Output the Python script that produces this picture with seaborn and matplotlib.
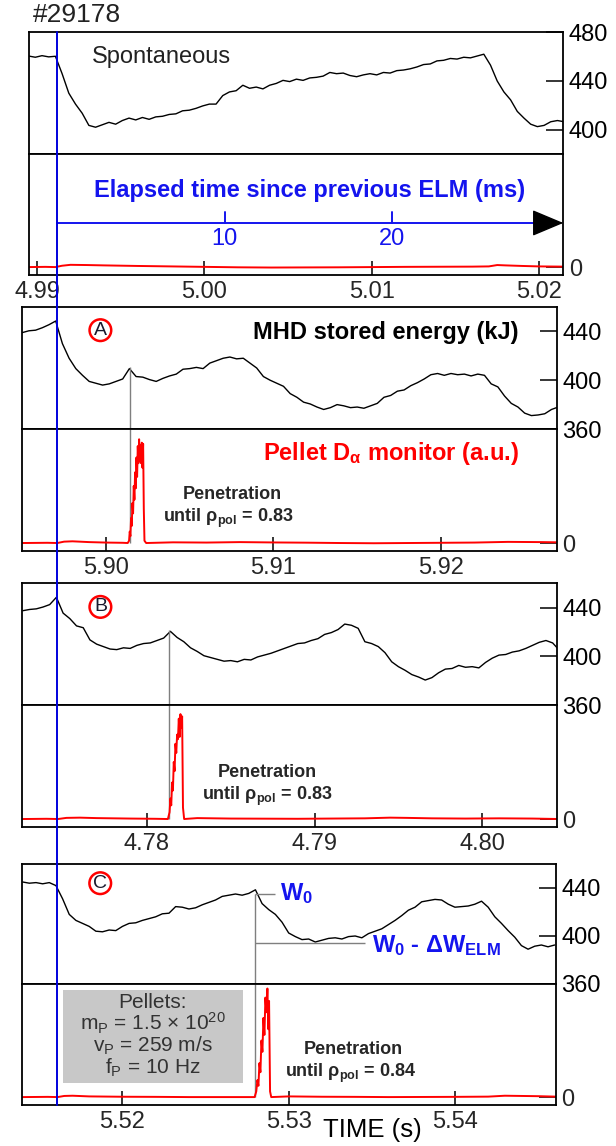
import numpy as np
import seaborn as sns
from matplotlib import pyplot as plt
from matplotlib.lines import Line2D
from matplotlib.patches import Rectangle
from matplotlib.transforms import blended_transform_factory

# ---------------- values ----------------
shot = '#29178'
panel_tags = ['', 'A', 'B', 'C']

# visible time window and ticks of every panel (s)
time_windows = [(4.98954, 5.02145), (5.89497, 5.92693), (4.77253, 4.80446), (5.51394, 5.54608)]
time_ticks = [[4.99, 5.00, 5.01, 5.02], [5.90, 5.91, 5.92], [4.78, 4.79, 4.80], [5.52, 5.53, 5.54]]
energy_ranges = [(380, 480), (360, 460), (360, 460), (360, 460)]
energy_ticks = [[400, 440, 480], [360, 400, 440], [360, 400, 440], [360, 400, 440]]
da_range = (-0.07, 1.0)

elm_times = [4.99121, 5.89709, 4.77465, 5.51608]
elapsed_ms = [10, 20]
pellet_times = [None, 5.90143, 4.78131, 5.52798]
pellet_energy = [None, 410.5, 421.5, 435.0]
penetration_rho = [None, '0.83', '0.83', '0.84']

w0_level = 435.0
w0_dw_level = 394.5
w0_line_end = 5.52917
w0_dw_line_end = 5.53459

# MHD stored energy (kJ), one sample every 0.4 ms from w_start
w_start = [4.9895, 5.8950, 4.7726, 5.5140]
w_step = 0.0004
w_spont = [460.5, 459.5, 460.8, 459.8, 460.3, 446, 430, 421, 413.5, 403.5,
           402, 404, 406, 404.5, 407.5, 409.5, 408, 410, 408.5, 410.5,
           411, 412.5, 413, 415.5, 416, 417.5, 419.5, 421, 421, 428,
           431, 432, 436.5, 434, 435, 433.5, 436.5, 438, 440.5, 439.5,
           441.5, 440.5, 442.5, 443, 444, 447, 446, 446.5, 444.5, 443.5,
           445, 446, 445, 447, 446.5, 448.5, 449, 450, 451.5, 453.5,
           454, 456.5, 457, 458.5, 458, 459.5, 459, 460.5, 462, 453,
           440, 431, 424.5, 415, 409.5, 404.5, 402.5, 403.5, 406.5, 407.5,
           406.5]
w_a = [439, 440.5, 441, 443, 445.5, 448.5, 430, 418, 409.5, 404,
       399, 397.5, 396, 397, 399, 401, 409.5, 403, 402.5, 400.5,
       399, 401.5, 403.5, 405, 409, 409.5, 410.5, 409.5, 414, 416,
       418, 419, 417.5, 418, 414, 410, 403, 400, 397.5, 395,
       389, 386, 382, 380.5, 378, 376, 377.5, 380, 379, 377.5,
       378, 377, 379, 381, 386, 387.5, 391, 392, 395.5, 398,
       401, 404.5, 405.5, 404, 405.5, 404.5, 405, 403.5, 405, 404,
       397, 394.5, 387, 381, 378, 373, 371, 371.5, 372.5, 376,
       378]
w_b = [437.5, 438.5, 439, 440.5, 442.5, 448.5, 435.5, 431, 425, 423.5,
       413.5, 410, 408, 406, 405.5, 407, 406.5, 409, 410.5, 411,
       413, 415, 420.5, 415.5, 412, 407, 404, 400.5, 399, 397.5,
       396, 396.5, 395.5, 397.5, 397, 399.5, 401, 402.5, 404.5, 406.5,
       408.5, 410.5, 411, 413, 414.5, 418, 419.5, 422, 426.5, 425.5,
       423, 412, 410.5, 408, 403, 395.5, 391.5, 388.5, 385, 383,
       380.5, 382.5, 386.5, 389.5, 390, 392.5, 391, 391.5, 390.5, 395,
       398.5, 401, 401.5, 403.5, 404.5, 406.5, 409, 411.5, 413, 411,
       405]
w_c = [445, 444, 444.5, 443.5, 444.5, 442, 431, 418, 413, 410.5,
       408, 404, 403.5, 405, 404.5, 408, 410.5, 411, 413, 414.5,
       416, 418.5, 419, 424.5, 424, 422.5, 423.5, 426, 428, 430,
       433, 434, 435, 434, 435.5, 438.5, 427, 422, 418, 411.5,
       402.5, 399.5, 397, 397.5, 395, 396.5, 398, 398.5, 397.5, 399.5,
       400, 398.5, 402, 404, 406, 409.5, 413, 417, 421.5, 424,
       428.5, 429.5, 430.5, 430, 426.5, 424, 424.5, 425, 426.5, 429,
       424, 416, 410.5, 404.5, 399, 392, 389, 391.5, 392.5, 391,
       392.5]
energy = [w_spont, w_a, w_b, w_c]

# pellet D-alpha monitor (a.u.)
da_t0 = [4.9895, 4.9905, 4.9911, 4.9915, 4.9920, 4.9930, 4.9940, 4.9960, 4.9980, 5.0000,
         5.0020, 5.0040, 5.0060, 5.0080, 5.0100, 5.0120, 5.0140, 5.0160, 5.0170, 5.0175,
         5.0180, 5.0190, 5.0200, 5.0215]
da_v0 = [0.0, 0.002, 0.0, 0.012, 0.02, 0.018, 0.015, 0.01, 0.006, 0.002,
         -0.002, -0.004, -0.003, -0.002, 0.0, 0.002, 0.003, 0.004, 0.006, 0.018,
         0.015, 0.01, 0.006, 0.004]
da_ta = [5.8950, 5.8965, 5.8971, 5.8975, 5.8980, 5.8990, 5.9000, 5.9010, 5.9013,
         5.90138, 5.90142, 5.90146, 5.90150, 5.90154, 5.90158, 5.90162, 5.90166,
         5.90170, 5.90174, 5.90178, 5.90182, 5.90186, 5.90190, 5.90194, 5.90198,
         5.90202, 5.90206, 5.90210, 5.90214, 5.90218, 5.90222, 5.90226, 5.90230,
         5.9024, 5.9040, 5.9060, 5.9080, 5.9100, 5.9120, 5.9140, 5.9160, 5.9180,
         5.9200, 5.9220, 5.9240, 5.9260, 5.9270]
da_va = [0.0, 0.002, 0.0, 0.012, 0.015, 0.008, 0.004, 0.002, 0.0,
         0.02, 0.10, 0.06, 0.22, 0.15, 0.35, 0.26, 0.50,
         0.38, 0.62, 0.48, 0.75, 0.58, 0.85, 0.70, 0.91,
         0.72, 0.86, 0.70, 0.88, 0.66, 0.87, 0.30, 0.02,
         0.0, 0.006, 0.004, 0.008, 0.005, 0.003, 0.0, -0.002, 0.0,
         0.002, 0.004, 0.01, 0.008, 0.006]
da_tb = [4.7726, 4.7740, 4.7747, 4.7752, 4.7760, 4.7770, 4.7790, 4.7805, 4.78125,
         4.78135, 4.78140, 4.78145, 4.78150, 4.78155, 4.78160, 4.78165, 4.78170,
         4.78175, 4.78180, 4.78185, 4.78190, 4.78195, 4.78200, 4.78205, 4.78210, 4.78215,
         4.78222, 4.7830, 4.7850, 4.7870, 4.7890, 4.7910, 4.7930, 4.7945, 4.7955,
         4.7970, 4.7990, 4.8010, 4.8030, 4.8046]
da_vb = [0.0, 0.002, 0.0, 0.01, 0.012, 0.008, 0.004, 0.002, 0.0,
         0.06, 0.18, 0.12, 0.32, 0.25, 0.50, 0.42, 0.66,
         0.58, 0.74, 0.70, 0.88, 0.72, 0.92, 0.80, 0.90, 0.10,
         0.0, 0.008, 0.004, 0.003, 0.002, 0.004, 0.006, 0.012, 0.01,
         0.006, 0.004, 0.006, 0.004, 0.0]
da_tc = [5.5140, 5.5155, 5.5161, 5.5165, 5.5170, 5.5180, 5.5200, 5.5220, 5.5240, 5.5260, 5.52795,
         5.52805, 5.52812, 5.52818, 5.52824, 5.52830, 5.52836, 5.52842, 5.52848,
         5.52854, 5.52860, 5.52866, 5.52872, 5.52878, 5.52882, 5.52888,
         5.52895, 5.5300, 5.5320, 5.5340, 5.5360, 5.5380, 5.5400, 5.5420, 5.5430,
         5.5440, 5.5450, 5.5461]
da_vc = [0.0, 0.002, 0.0, 0.01, 0.012, 0.006, 0.003, 0.002, 0.0, 0.0, 0.0,
         0.05, 0.15, 0.10, 0.30, 0.22, 0.50, 0.40, 0.70,
         0.55, 0.88, 0.75, 0.96, 0.60, 0.85, 0.05,
         0.0, 0.006, 0.003, 0.002, 0.0, 0.001, 0.002, 0.004, 0.012,
         0.01, 0.008, 0.004]
da_times = [da_t0, da_ta, da_tb, da_tc]
da_values = [da_v0, da_va, da_vb, da_vc]

pellet_box_lines = ['Pellets:', r'm$_\mathrm{P}$ = 1.5 × 10$^{20}$',
                    r'v$_\mathrm{P}$ = 259 m/s', r'f$_\mathrm{P}$ = 10 Hz']

# ---------------- layout ----------------
W, H = 616, 1146
# panel boxes in pixels: left, right, top, split, bottom
boxes = [(29.3, 563.3, 32.3, 154, 275),
         (21.7, 557.0, 307.0, 429, 551),
         (21.7, 557.0, 583.3, 705, 827),
         (21.7, 556.0, 864.0, 984, 1105)]
# penetration label positions (axes fraction): x1, y1, x2, y2
pen_pos = [None, (0.393, 0.467, 0.385, 0.27), (0.458, 0.45, 0.458, 0.248),
           (0.62, 0.455, 0.616, 0.264)]
tag_pos = [None, (0.147, 0.81), (0.147, 0.806), (0.147, 0.84)]

BLUE = '#1414ee'
RED = '#ff0000'
GREY = '#7f7f7f'
FS = 17


def rect(l, r, t, b):
    return [l / W, 1 - b / H, (r - l) / W, (b - t) / H]


sns.set_theme(style='white')
plt.rcParams['font.family'] = ['Liberation Sans', 'DejaVu Sans']
plt.rcParams['mathtext.fontset'] = 'custom'
plt.rcParams['mathtext.rm'] = 'Liberation Sans'
plt.rcParams['mathtext.it'] = 'Liberation Sans:italic'
plt.rcParams['mathtext.bf'] = 'Liberation Sans:bold'
plt.rcParams['axes.edgecolor'] = 'black'
plt.rcParams['axes.linewidth'] = 1.3

fig = plt.figure(figsize=(W / 100, H / 100), dpi=100)

top_axes, bot_axes = [], []
for i, (l, r, t, m, b) in enumerate(boxes):
    ax_w = fig.add_axes(rect(l, r, t, m))
    ax_d = fig.add_axes(rect(l, r, m, b))
    top_axes.append(ax_w)
    bot_axes.append(ax_d)

    times = np.round(w_start[i] + w_step * np.arange(len(energy[i])), 5)
    sns.lineplot(x=times, y=energy[i], ax=ax_w, color='black', lw=1.0, estimator=None)
    sns.lineplot(x=da_times[i], y=da_values[i], ax=ax_d, color=RED, lw=1.4, estimator=None)

    # energy axis
    ax_w.set_xlim(time_windows[i])
    ax_w.set_ylim(energy_ranges[i])
    ax_w.set_xticks([])
    ax_w.yaxis.tick_right()
    ax_w.set_yticks(energy_ticks[i])
    ax_w.tick_params(axis='y', which='both', direction='in', length=12, width=1.3,
                     labelsize=FS, pad=4, right=True, left=False, labelcolor='black')
    ax_w.set_xlabel('')
    ax_w.set_ylabel('')

    # D-alpha axis
    ax_d.set_xlim(time_windows[i])
    ax_d.set_ylim(da_range)
    ax_d.set_xticks(time_ticks[i])
    ax_d.set_xticklabels([f'{v:.2f}' for v in time_ticks[i]])
    ax_d.yaxis.tick_right()
    ax_d.set_yticks([0])
    ax_d.tick_params(axis='y', direction='in', length=12, width=1.3, labelsize=FS,
                     pad=4, right=True, left=False)
    ax_d.tick_params(axis='x', direction='in', length=10, width=1.3, labelsize=FS,
                     pad=4, bottom=True, top=False)
    ax_d.set_xlabel('')
    ax_d.set_ylabel('')

    for ax in (ax_w, ax_d):
        for sp in ax.spines.values():
            sp.set_color('black')
            sp.set_linewidth(1.3)

    if i == 0:
        continue

    # panel tag in a red circle
    ax_w.text(*tag_pos[i], panel_tags[i], transform=ax_w.transAxes, ha='center',
              va='center', fontsize=14, color='#1a1a2e',
              bbox=dict(boxstyle='circle,pad=0.12', fc='white', ec=RED, lw=1.8))

    # pellet arrival marker
    pt = pellet_times[i]
    ax_w.vlines(pt, energy_ranges[i][0], pellet_energy[i], color=GREY, lw=1.0)
    ax_d.vlines(pt, 0, da_range[1], color=GREY, lw=1.0, zorder=1)

    px1, py1, px2, py2 = pen_pos[i]
    ax_d.text(px1, py1, 'Penetration', transform=ax_d.transAxes, ha='center',
              va='center', fontsize=13, fontweight='bold')
    ax_d.text(px2, py2, 'until ρ$_\\mathbf{pol}$ = ' + penetration_rho[i],
              transform=ax_d.transAxes, ha='center', va='center', fontsize=13,
              fontweight='bold')

# spontaneous ELM panel
ax0w, ax0d = top_axes[0], bot_axes[0]
ax0w.text(0.1174, 0.797, 'Spontaneous', transform=ax0w.transAxes, ha='left',
          va='center', fontsize=FS, color='#222222')
trans = blended_transform_factory(ax0d.transData, ax0d.transAxes)
arrow_y = 0.43
head_len = 0.00167
x_end = time_windows[0][1]
ax0d.plot([elm_times[0], x_end - head_len], [arrow_y, arrow_y], transform=trans,
          color=BLUE, lw=1.4)
ax0d.annotate('', xy=(x_end, arrow_y), xytext=(x_end - head_len, arrow_y),
              xycoords=trans, textcoords=trans,
              arrowprops=dict(arrowstyle='-|>,head_length=1.0,head_width=0.42',
                              fc='black', ec='black', lw=1.0, mutation_scale=20,
                              shrinkA=0, shrinkB=0))
for ms in elapsed_ms:
    tx = elm_times[0] + ms / 1000.0
    ax0d.plot([tx, tx], [arrow_y, arrow_y + 0.09], transform=trans, color=BLUE, lw=1.4)
    ax0d.text(tx, 0.30, str(ms), transform=trans, ha='center', va='center',
              fontsize=FS, color=BLUE)
ax0d.text(0.5257, 0.70, 'Elapsed time since previous ELM (ms)', transform=ax0d.transAxes,
          ha='center', va='center', fontsize=FS, fontweight='bold', color=BLUE)

# panel A labels
axAw, axAd = top_axes[1], bot_axes[1]
axAw.text(0.929, 0.795, 'MHD stored energy (kJ)', transform=axAw.transAxes,
          ha='right', va='center', fontsize=FS, fontweight='bold', color='black')
axAd.text(0.929, 0.803, r'Pellet D$_\mathbf{\alpha}$ monitor (a.u.)',
          transform=axAd.transAxes, ha='right', va='center', fontsize=FS,
          fontweight='bold', color=RED)

# panel C: W0 levels and pellet parameter box
axCw, axCd = top_axes[3], bot_axes[3]
axCw.hlines(w0_level, pellet_times[3], w0_line_end, color=GREY, lw=1.0)
axCw.hlines(w0_dw_level, pellet_times[3], w0_dw_line_end, color=GREY, lw=1.0)
axCw.annotate(r'W$_\mathbf{0}$', xy=(w0_line_end, w0_level), xytext=(4, 0),
              textcoords='offset points', ha='left', va='center', fontsize=FS,
              fontweight='bold', color=BLUE)
axCw.annotate(r'W$_\mathbf{0}$ - ΔW$_\mathbf{ELM}$', xy=(w0_dw_line_end, w0_dw_level),
              xytext=(5, -2), textcoords='offset points', ha='left', va='center',
              fontsize=FS, fontweight='bold', color=BLUE)

axCd.add_patch(Rectangle((0.0773, 0.182), 0.337, 0.769, transform=axCd.transAxes,
                         fc='#c8c8c8', ec='none', zorder=1))
for line, yy in zip(pellet_box_lines, [0.843, 0.678, 0.488, 0.306]):
    axCd.text(0.2457, yy, line, transform=axCd.transAxes, ha='center', va='center',
              fontsize=15, color='#333333', zorder=3)

# ELM onset line common to all panels
x_disp = ax0d.transData.transform((elm_times[0], 0))[0]
x_fig = x_disp / fig.bbox.width
fig.add_artist(Line2D([x_fig, x_fig], [1 - boxes[0][2] / H, 1 - boxes[3][4] / H],
                      transform=fig.transFigure, color='#0000dd', lw=1.4, zorder=5))

fig.text(33 / W, 1 - 15 / H, shot, ha='left', va='center', fontsize=19, color='#222222')
fig.text(372 / W, 1 - 1130 / H, 'TIME (s)', ha='center', va='center', fontsize=18.5,
         color='black')

fig.savefig('out.png', dpi=100)
